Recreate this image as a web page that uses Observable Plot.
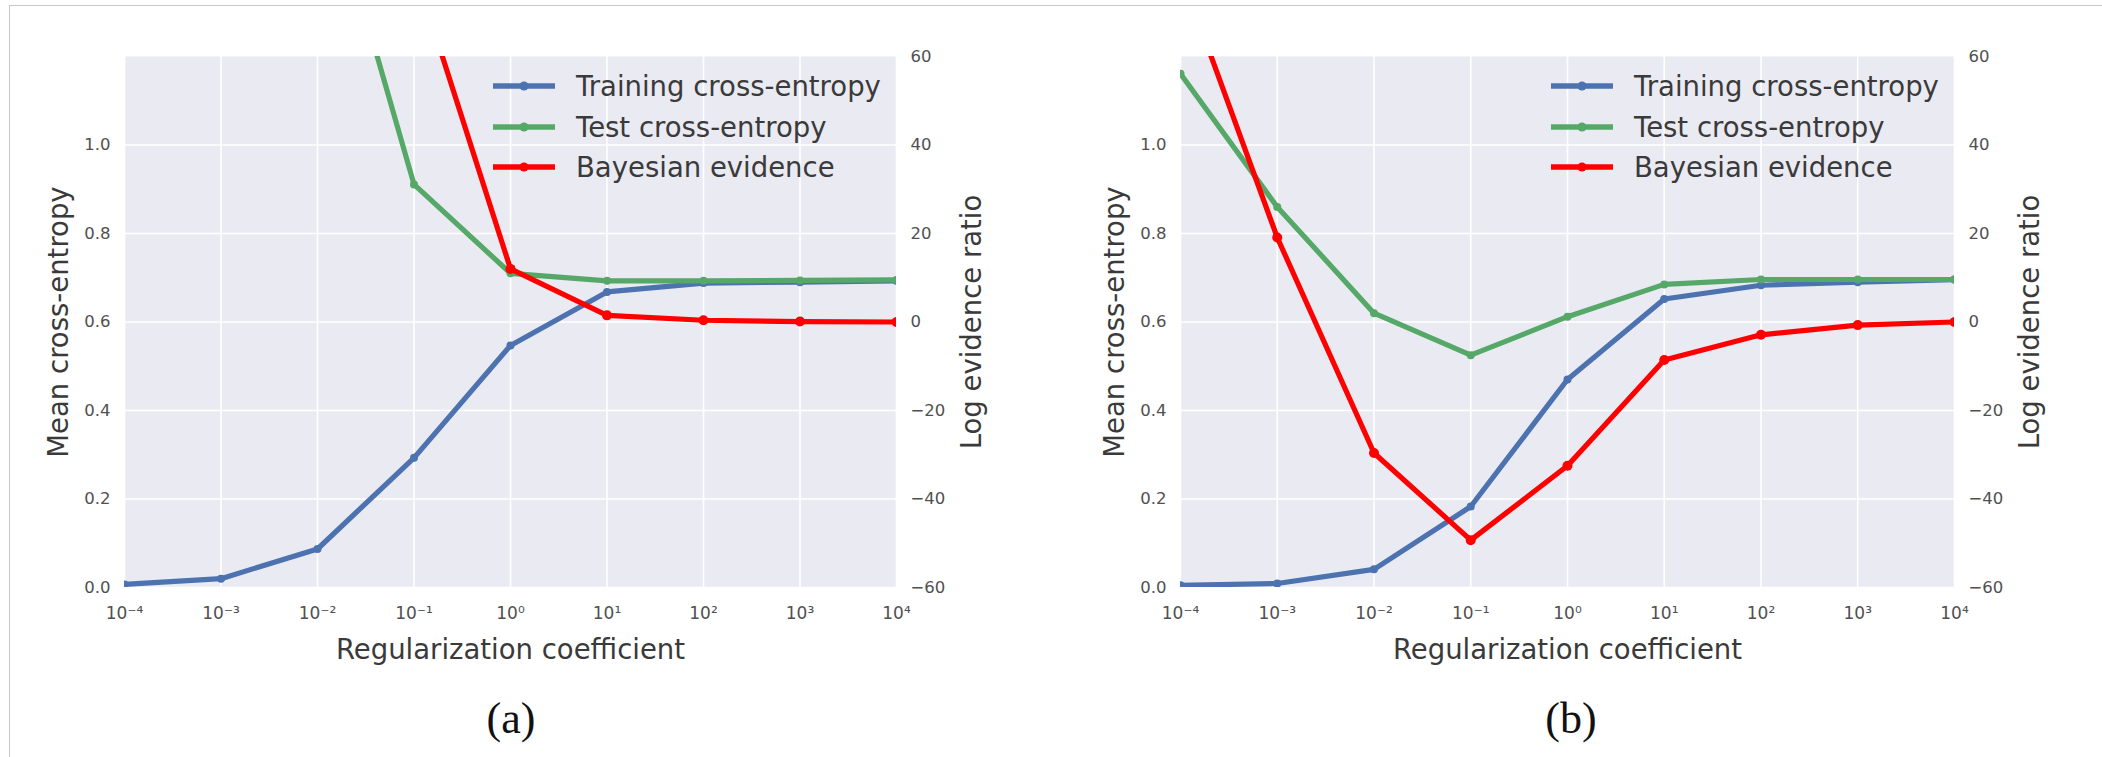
<!DOCTYPE html>
<html>
<head>
<meta charset="utf-8">
<script src="https://cdn.jsdelivr.net/npm/d3@7"></script>
<script src="https://cdn.jsdelivr.net/npm/@observablehq/plot@0.6"></script>
<style>
  body { margin: 0; background: #fff; }
  #wrap { position: relative; width: 2102px; height: 757px; overflow: hidden; font-family: "DejaVu Sans", sans-serif; }
  .frame { position: absolute; left: 9px; top: 5px; width: 2300px; height: 900px; border-top: 1.5px solid #c9c9c9; border-left: 1.5px solid #c9c9c9; }
  .panel { position: absolute; top: 0; }
  .cap { position: absolute; top: 697px; width: 200px; text-align: center; font-family: "Liberation Serif", "Times New Roman", serif; font-size: 44px; line-height: 44px; color: #111; }
  .legend { position: absolute; top: 66px; }
  .row { display: flex; align-items: center; height: 40.5px; }
  .row span { font-size: 27.5px; color: #3a3a3a; white-space: nowrap; }
</style>
</head>
<body>
<div id="wrap"><div class="frame"></div></div>
<script>
// ---- data ----
const exponents = [-4, -3, -2, -1, 0, 1, 2, 3, 4];
const xTickLabels = ["10⁻⁴", "10⁻³", "10⁻²", "10⁻¹", "10⁰", "10¹", "10²", "10³", "10⁴"];
const leftTicks = [0, 0.2, 0.4, 0.6, 0.8, 1.0];
const rightTickLabels = [-60, -40, -20, 0, 20, 40, 60];
const seriesNames = ["Training cross-entropy", "Test cross-entropy", "Bayesian evidence"];
const seriesColors = ["#4C72B0", "#55A868", "#FF0000"];

// panel (a)
const trainA = [0.007, 0.02, 0.087, 0.293, 0.547, 0.668, 0.688, 0.690, 0.693];
const testA  = [3.2, 2.4, 1.67, 0.911, 0.710, 0.693, 0.693, 0.694, 0.695];
const evA    = [250, 200, 150, 80, 12, 1.5, 0.4, 0.1, 0];
// panel (b)
const trainB = [0.005, 0.009, 0.041, 0.183, 0.470, 0.652, 0.683, 0.690, 0.696];
const testB  = [1.161, 0.860, 0.620, 0.525, 0.612, 0.685, 0.696, 0.696, 0.696];
const evB    = [79, 19.1, -29.6, -49.3, -32.5, -8.6, -2.9, -0.7, 0];

// evidence axis (right) maps onto the left cross-entropy axis: 0 <-> 0.6, 60 <-> 1.2
const evToLeft = v => 0.6 + v / 100;
const minus = n => (n < 0 ? "\u2212" + Math.abs(n) : String(n));

function makePanel(train, test, ev, mL, mR) {
  const W = 1051, H = 700;
  const xs = exponents.map(e => Math.pow(10, e));
  const tr = xs.map((x, i) => ({x, y: train[i]}));
  const te = xs.map((x, i) => ({x, y: test[i]}));
  const bv = xs.map((x, i) => ({x, v: ev[i]}));
  const rightTicks = rightTickLabels.map(evToLeft);
  const tickFmtX = d => xTickLabels[exponents.indexOf(Math.round(Math.log10(d)))];
  const lab = {fontSize: 27.5, fill: "#3a3a3a", labelAnchor: "center", labelArrow: "none", tickSize: 0};
  const sw = 5.2;
  return Plot.plot({
    width: W, height: H,
    marginLeft: mL, marginRight: mR, marginTop: 56, marginBottom: H - 587,
    style: {fontFamily: "DejaVu Sans", background: "transparent", maxWidth: "none", overflow: "visible"},
    x: {type: "log", domain: [1e-4, 1e4]},
    y: {domain: [0, 1.2]},
    marks: [
      Plot.frame({fill: "#EAEAF2", stroke: null}),
      Plot.gridX(xs, {stroke: "#ffffff", strokeOpacity: 1, strokeWidth: 1.6}),
      Plot.gridY(leftTicks, {stroke: "#ffffff", strokeOpacity: 1, strokeWidth: 1.6}),
      Plot.axisX(xs, {tickSize: 0, tickPadding: 19, tickFormat: tickFmtX, fontSize: 17, fill: "#505050", label: null}),
      Plot.axisX([], {...lab, label: "Regularization coefficient", labelOffset: 71}),
      Plot.axisY(leftTicks, {anchor: "left", tickSize: 0, tickPadding: 14, tickFormat: d3.format(".1f"), fontSize: 16.5, fill: "#505050", label: null}),
      Plot.axisY([], {...lab, anchor: "left", label: "Mean cross-entropy", labelOffset: 76}),
      Plot.axisY(rightTicks, {anchor: "right", tickSize: 0, tickPadding: 14, tickFormat: d => minus(Math.round((d - 0.6) * 100)), fontSize: 16.5, fill: "#505050", label: null}),
      Plot.axisY([], {...lab, anchor: "right", label: "Log evidence ratio", labelOffset: 84}),
      Plot.line(tr, {x: "x", y: "y", stroke: seriesColors[0], strokeWidth: sw, clip: true}),
      Plot.dot(tr, {x: "x", y: "y", r: 4, fill: seriesColors[0], clip: true}),
      Plot.line(te, {x: "x", y: "y", stroke: seriesColors[1], strokeWidth: sw, clip: true}),
      Plot.dot(te, {x: "x", y: "y", r: 4, fill: seriesColors[1], clip: true}),
      Plot.line(bv, {x: "x", y: d => evToLeft(d.v), stroke: seriesColors[2], strokeWidth: sw, clip: true}),
      Plot.dot(bv, {x: "x", y: d => evToLeft(d.v), r: 5, fill: seriesColors[2], clip: true})
    ]
  });
}

function makeLegend(left) {
  const div = document.createElement("div");
  div.className = "legend";
  div.style.left = left + "px";
  seriesNames.forEach((name, i) => {
    const row = document.createElement("div");
    row.className = "row";
    const svg = d3.create("svg").attr("width", 62).attr("height", 14).style("margin-right", "21px");
    svg.append("line").attr("x1", 0).attr("x2", 62).attr("y1", 7).attr("y2", 7)
      .attr("stroke", seriesColors[i]).attr("stroke-width", 5.5);
    svg.append("circle").attr("cx", 31).attr("cy", 7).attr("r", 4.5).attr("fill", seriesColors[i]);
    row.appendChild(svg.node());
    const span = document.createElement("span");
    span.textContent = name;
    row.appendChild(span);
    div.appendChild(row);
  });
  return div;
}

const wrap = document.getElementById("wrap");
const pa = makePanel(trainA, testA, evA, 124, 1051 - 896);
pa.classList.add("panel"); pa.style.left = "0px"; pa.style.position = "absolute";
wrap.appendChild(pa);
const pb = makePanel(trainB, testB, evB, 1180 - 1051, 1051 - (1954 - 1051));
pb.classList.add("panel"); pb.style.left = "1051px"; pb.style.position = "absolute";
wrap.appendChild(pb);
wrap.appendChild(makeLegend(493));
wrap.appendChild(makeLegend(1551));
const ca = document.createElement("div"); ca.className = "cap"; ca.style.left = (511 - 100) + "px"; ca.textContent = "(a)"; wrap.appendChild(ca);
const cb = document.createElement("div"); cb.className = "cap"; cb.style.left = (1571 - 100) + "px"; cb.textContent = "(b)"; wrap.appendChild(cb);
</script>
</body>
</html>
